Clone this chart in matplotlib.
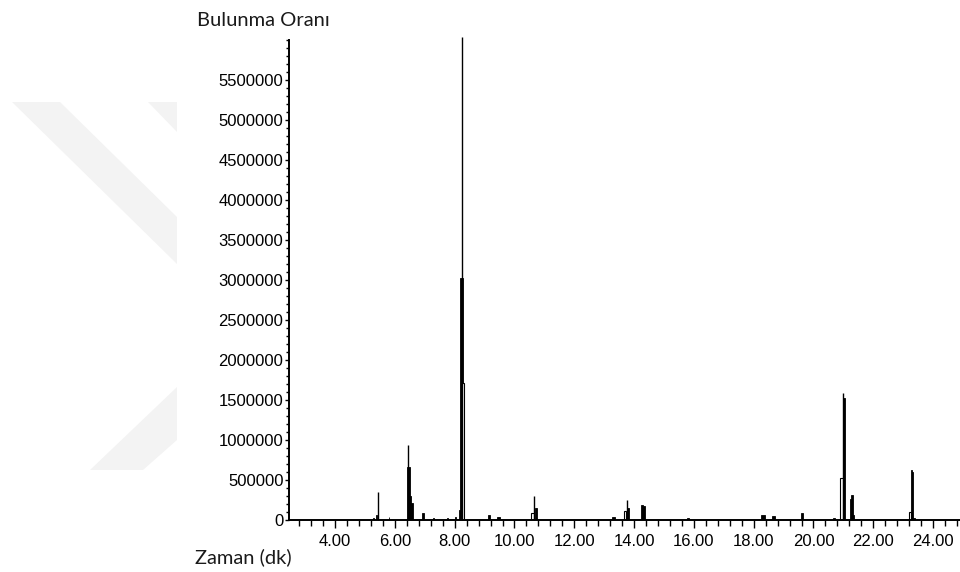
"""
Kromatogram grafiği (Bulunma Oranı - Zaman) yeniden çizimi.
Çıktı: out.png (960x572)
"""
import matplotlib
matplotlib.use("Agg")
import matplotlib.pyplot as plt
from matplotlib.patches import Polygon
from matplotlib.ticker import FixedLocator, MultipleLocator, FuncFormatter

# ---- veri ----
# ince tepe çizgileri
spike_t = [5.43, 6.43, 8.26, 10.67, 13.76, 20.98]
spike_h = [350000, 940000, 6040000, 300000, 250000, 1590000]

# dolu (siyah) bloklar: başlangıç, bitiş, yükseklik
solid_t0 = [5.27, 5.37, 5.79, 6.42, 6.49, 6.55, 6.92, 7.28, 7.74, 8.00,
            8.13, 8.19, 9.13, 9.40, 10.69, 13.26, 13.77, 14.23, 14.30,
            15.77, 18.25, 18.62, 19.58, 20.64, 20.99, 21.22, 21.26, 21.31,
            23.26, 23.30, 23.33]
solid_t1 = [5.30, 5.41, 5.82, 6.49, 6.55, 6.61, 6.96, 7.31, 7.77, 8.03,
            8.19, 8.27, 9.17, 9.50, 10.75, 13.35, 13.82, 14.30, 14.37,
            15.83, 18.38, 18.70, 19.66, 20.72, 21.06, 21.26, 21.31, 21.36,
            23.30, 23.33, 23.40]
solid_h = [30000, 60000, 40000, 660000, 300000, 210000, 90000, 20000,
           25000, 40000, 125000, 3025000, 60000, 40000, 150000, 40000,
           150000, 190000, 180000, 25000, 60000, 50000, 85000, 25000,
           1525000, 262000, 312000, 60000, 625000, 600000, 30000]

# içi boş bloklar
open_t0 = [8.21, 10.55, 13.67, 20.88, 23.20]
open_t1 = [8.31, 10.64, 13.74, 20.98, 23.26]
open_h = [1712000, 90000, 115000, 525000, 100000]

ytick_vals = [0, 500000, 1000000, 1500000, 2000000, 2500000, 3000000,
              3500000, 4000000, 4500000, 5000000, 5500000]
xtick_vals = [4, 6, 8, 10, 12, 14, 16, 18, 20, 22, 24]

W, H = 960, 572
fig = plt.figure(figsize=(W / 100, H / 100), dpi=100)
fig.patch.set_facecolor("white")

# arka plandaki soluk filigran
def px_poly(pts):
    return [(x / W, 1 - y / H) for x, y in pts]

for pts in ([(12, 102), (60, 102), (177, 217), (177, 264)],
            [(148, 102), (177, 102), (177, 132)],
            [(177, 387), (90, 470), (143, 470), (177, 440)]):
    fig.add_artist(Polygon(px_poly(pts), closed=True, transform=fig.transFigure,
                           facecolor="#f3f3f3", edgecolor="none", zorder=0))

ax = fig.add_axes([289 / W, 52 / H, (W - 289) / W, 480 / H])
ax.set_facecolor("none")

# dolu bloklar
w_solid = [b - a for a, b in zip(solid_t0, solid_t1)]
ax.bar(solid_t0, solid_h, width=w_solid, align="edge", color="black",
       edgecolor="black", linewidth=0.6, zorder=2)
# içi boş bloklar
w_open = [b - a for a, b in zip(open_t0, open_t1)]
ax.bar(open_t0, open_h, width=w_open, align="edge", color="white",
       edgecolor="black", linewidth=0.8, zorder=3)
# ince tepeler
ax.vlines(spike_t, 0, spike_h, color="black", linewidth=1.0, zorder=4,
          clip_on=False)

ax.set_xlim(2.46, 24.90)
ax.set_ylim(0, 6000000)

for s in ("top", "right"):
    ax.spines[s].set_visible(False)
for s in ("left", "bottom"):
    ax.spines[s].set_linewidth(1.4)
    ax.spines[s].set_zorder(5)

ax.yaxis.set_major_locator(FixedLocator(ytick_vals))
ax.yaxis.set_minor_locator(MultipleLocator(100000))
ax.yaxis.set_major_formatter(FuncFormatter(lambda v, p: f"{int(round(v))}"))
ax.xaxis.set_major_locator(FixedLocator(xtick_vals))
ax.xaxis.set_minor_locator(MultipleLocator(0.4))
ax.xaxis.set_major_formatter(FuncFormatter(lambda v, p: f"{v:.2f}"))

ax.tick_params(axis="y", which="major", direction="out", length=3, width=1,
               pad=1, labelsize=12)
ax.tick_params(axis="y", which="minor", direction="out", length=2, width=1)
ax.tick_params(axis="x", which="major", direction="out", length=6, width=1,
               pad=4, labelsize=12)
ax.tick_params(axis="x", which="minor", direction="out", length=4, width=1)
for lab in ax.get_xticklabels() + ax.get_yticklabels():
    lab.set_fontfamily("Liberation Sans")

fig.text(197 / W, 1 - 26 / H, "Bulunma Oranı", fontsize=14.5, family="Lato",
         color="#1a1a1a", ha="left", va="baseline")
fig.text(195 / W, 1 - 563 / H, "Zaman (dk)", fontsize=14.5, family="Lato",
         color="#1a1a1a", ha="left", va="baseline")

fig.savefig("out.png", dpi=100)
plt.close(fig)
